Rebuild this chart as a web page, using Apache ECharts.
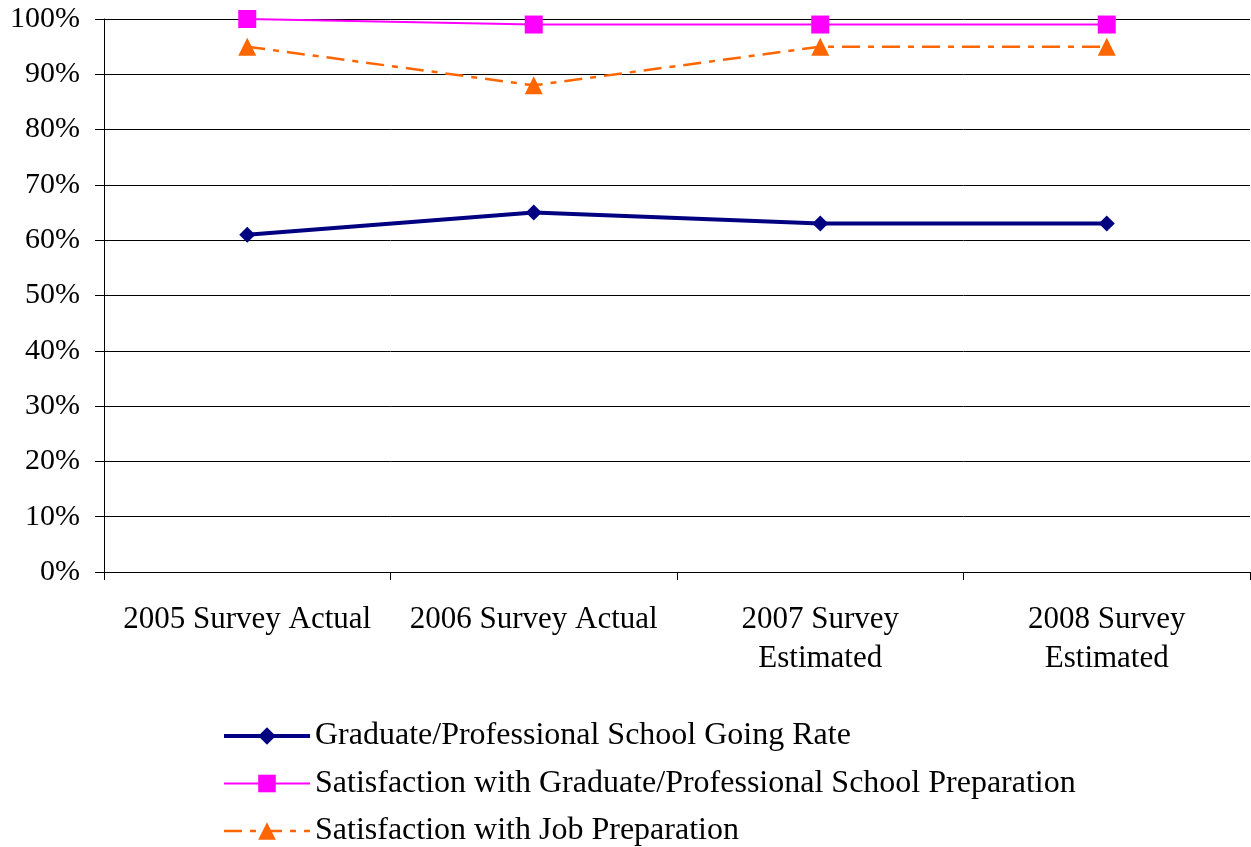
<!DOCTYPE html>
<html>
<head>
<meta charset="utf-8">
<script src="https://cdn.jsdelivr.net/npm/echarts@6/dist/echarts.min.js"></script>
<style>
  html, body { margin: 0; padding: 0; background: #fff; }
  #chart { width: 1251px; height: 847px; }
</style>
</head>
<body>
<div id="chart"></div>
<script>
// Survey years shown along the bottom axis
const categories = [
  '2005 Survey Actual',
  '2006 Survey Actual',
  '2007 Survey\nEstimated',
  '2008 Survey\nEstimated'
];

// Percent values per survey year
const goingRate = [61, 65, 63, 63];
const gradPrepSatisfaction = [100, 99, 99, 99];
const jobPrepSatisfaction = [95, 88, 95, 95];

const seriesNames = [
  'Graduate/Professional School Going Rate',
  'Satisfaction with Graduate/Professional School Preparation',
  'Satisfaction with Job Preparation'
];

const FONT = '"Liberation Serif", "DejaVu Serif", serif';
const NAVY = '#000080';
const MAGENTA = '#FF00FF';
const ORANGE = '#FF6600';
const DASH_DOT = [18, 8, 6, 8];

const chart = echarts.init(document.getElementById('chart'), null, { renderer: 'canvas' });

chart.setOption({
  animation: false,
  backgroundColor: '#ffffff',
  grid: { left: 104, right: 1, top: 19, bottom: 275, containLabel: false },
  legend: {
    orient: 'vertical',
    left: 222,
    top: 720,
    height: 140,
    padding: 0,
    itemWidth: 86,
    itemHeight: 22,
    itemGap: 15.5,
    textStyle: { fontFamily: FONT, fontSize: 32, color: '#000' },
    data: [
      { name: seriesNames[0], lineStyle: { color: NAVY, width: 4 } },
      { name: seriesNames[1], lineStyle: { color: MAGENTA, width: 2 } },
      { name: seriesNames[2], lineStyle: { color: ORANGE, width: 2.5, type: DASH_DOT } }
    ]
  },
  xAxis: {
    type: 'category',
    data: categories,
    boundaryGap: true,
    axisLine: { lineStyle: { color: '#000', width: 1 } },
    axisTick: { show: true, alignWithLabel: false, length: 8, lineStyle: { color: '#000' } },
    axisLabel: {
      fontFamily: FONT, fontSize: 31, color: '#000',
      margin: 28, lineHeight: 39, interval: 0, align: 'center'
    }
  },
  yAxis: {
    type: 'value',
    min: 0,
    max: 100,
    interval: 10,
    axisLine: { show: true, lineStyle: { color: '#000', width: 1 } },
    axisTick: { show: true, length: 9, lineStyle: { color: '#000' } },
    axisLabel: {
      fontFamily: FONT, fontSize: 30, color: '#000', margin: 24,
      formatter: v => v + '%'
    },
    splitLine: { show: true, lineStyle: { color: '#000', width: 1 } }
  },
  series: [
    {
      name: seriesNames[0],
      type: 'line',
      data: goingRate,
      symbol: 'diamond',
      symbolSize: 16,
      color: NAVY,
      lineStyle: { color: NAVY, width: 4 },
      itemStyle: { color: NAVY }
    },
    {
      name: seriesNames[1],
      type: 'line',
      data: gradPrepSatisfaction,
      symbol: 'rect',
      symbolSize: 18,
      color: MAGENTA,
      lineStyle: { color: MAGENTA, width: 2 },
      itemStyle: { color: MAGENTA }
    },
    {
      name: seriesNames[2],
      type: 'line',
      data: jobPrepSatisfaction,
      symbol: 'triangle',
      symbolSize: 18,
      color: ORANGE,
      lineStyle: { color: ORANGE, width: 2.5, type: DASH_DOT },
      itemStyle: { color: ORANGE }
    }
  ]
});
</script>
</body>
</html>
